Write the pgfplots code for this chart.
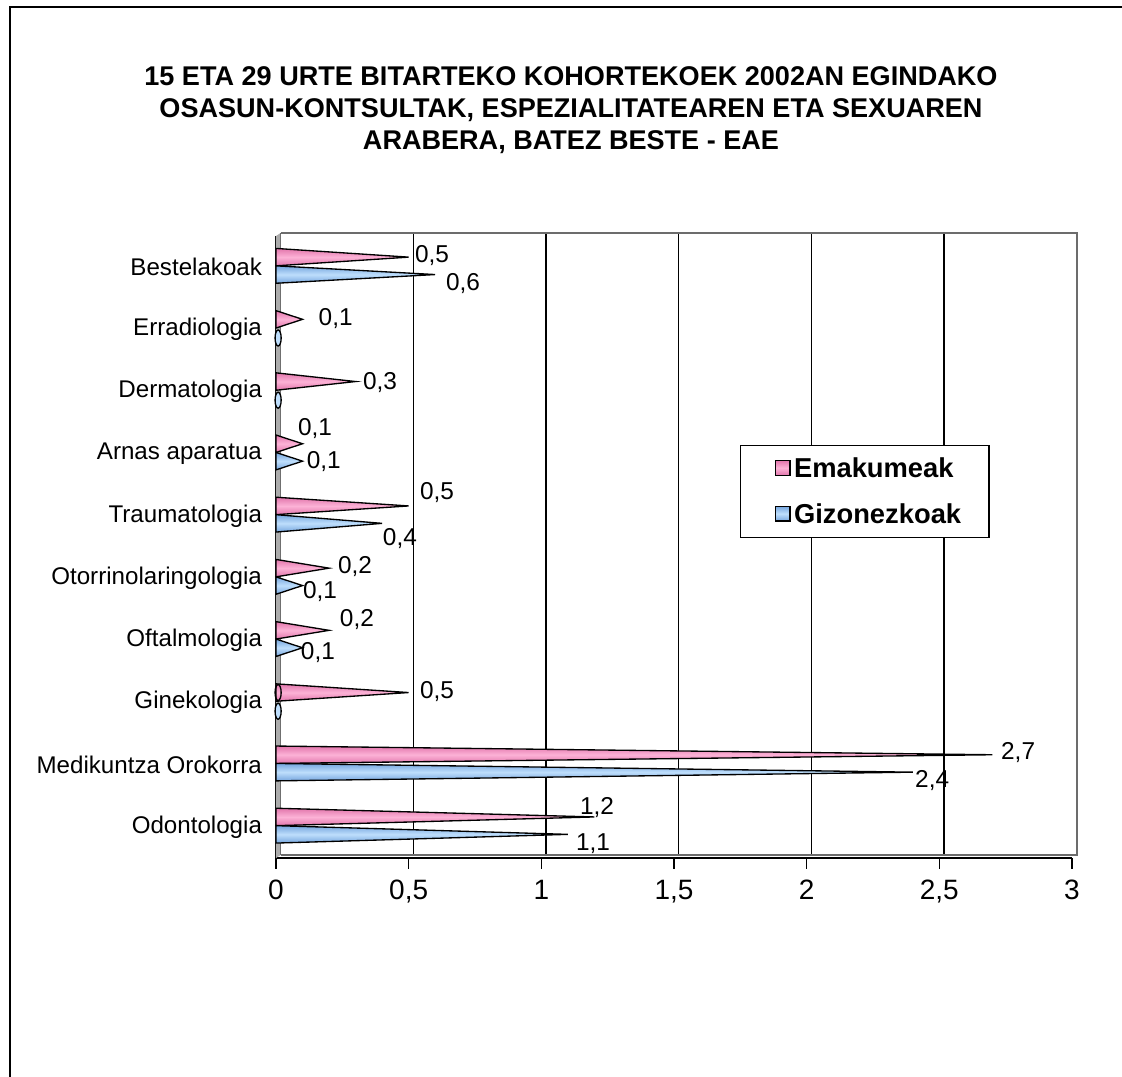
\documentclass[border=0pt]{standalone}
\usepackage{pgfplots}
\pgfplotsset{compat=1.18}
\usepackage{fontspec}
\setmainfont{Liberation Sans}
\setsansfont{Liberation Sans}
\definecolor{pinkL}{RGB}{252,178,214}
\definecolor{pinkD}{RGB}{226,118,172}
\definecolor{blueL}{RGB}{190,222,252}
\definecolor{blueD}{RGB}{118,166,222}
\definecolor{legpink}{RGB}{255,153,204}
\definecolor{legblue}{RGB}{153,204,255}
\begin{document}
\begin{tikzpicture}
\useasboundingbox (0,0) rectangle (841.5pt,-807.75pt);
\draw[line width=1.6pt] (7.5pt,-5.25pt) rectangle (900pt,-900pt);
\node[align=center, font=\bfseries\fontsize{20.3}{24}\selectfont] at (428.25pt,-82.5pt)
 {15 ETA 29 URTE BITARTEKO KOHORTEKOEK 2002AN EGINDAKO\\OSASUN-KONTSULTAK, ESPEZIALITATEAREN ETA SEXUAREN\\ARABERA, BATEZ BESTE - EAE};
\begin{axis}[
 at={(207pt,-643.5pt)}, anchor=south west, scale only axis,
 width=597pt, height=466.5pt,
 xmin=0, xmax=3, ymin=-0.5, ymax=9.5,
 axis x line*=bottom, axis y line*=left,
 axis line style={black, line width=1.2pt},
 xtick={0,0.5,1,1.5,2,2.5,3},
 ytick={0,1,2,3,4,5,6,7,8,9},
 yticklabels={Odontologia, Medikuntza Orokorra, Ginekologia, Oftalmologia, Otorrinolaringologia, Traumatologia, Arnas aparatua, Dermatologia, Erradiologia, Bestelakoak},
 minor ytick={-0.5,0.5,1.5,2.5,3.5,4.5,5.5,6.5,7.5,8.5,9.5},
 ytick style={draw=none},
 minor tick style={black, line width=1pt},
 xtick style={black, line width=1pt},
 tick align=outside,
 major tick length=8pt, minor tick length=7pt,
 /pgf/number format/use comma,
 /pgf/number format/assume math mode=true,
 yticklabel style={font=\fontsize{18.1}{21}\selectfont, xshift=1pt},
 xticklabel style={font=\fontsize{21}{24}\selectfont, yshift=-5pt},
 xmajorgrids,
 major grid style={black, line width=0.8pt, xshift=3.5pt, yshift=2.25pt},
 legend style={at={(0.583,0.664)}, anchor=north west, draw=black, line width=1pt,
   font=\bfseries\fontsize{20.5}{23}\selectfont, row sep=14pt, inner xsep=19pt, inner ysep=7pt},
 legend cell align=left,
 clip=false,
]
% left wall and back wall frame
\fill[gray!65] (axis cs:0,-0.5) -- (axis cs:0,9.5) -- ([shift={(3.5pt,2.25pt)}]axis cs:0,9.5) -- ([shift={(3.5pt,2.25pt)}]axis cs:0,-0.5) -- cycle;
\draw[gray!85!black, line width=1.6pt] ([shift={(3.5pt,2.25pt)}]axis cs:0,9.5) -- ([shift={(3.5pt,2.25pt)}]axis cs:3,9.5) -- ([shift={(3.5pt,2.25pt)}]axis cs:3,-0.5) -- ([shift={(3.5pt,2.25pt)}]axis cs:0,-0.5);
% Bestelakoak
\addplot[draw=black, line width=1pt, top color=pinkD, bottom color=pinkD, middle color=pinkL,
  legend image code/.code={\path[draw=none] (0pt,0pt) (19pt,0pt); \draw[fill=legpink, draw=black, line width=1pt] (7pt,-5pt) rectangle (18pt,6pt);}]
  coordinates {(0,9.02) (0.5,9.16) (0,9.30)} -- cycle;
\addlegendentry{Emakumeak}
\addplot[draw=black, line width=1pt, top color=blueD, bottom color=blueD, middle color=blueL,
  legend image code/.code={\path[draw=none] (0pt,0pt) (19pt,0pt); \draw[fill=legblue, draw=black, line width=1pt] (7pt,-5pt) rectangle (18pt,6pt);}]
  coordinates {(0,8.74) (0.6,8.88) (0,9.02)} -- cycle;
\addlegendentry{Gizonezkoak}
% Emakumeak (pink)
\addplot[forget plot, draw=black, line width=1pt, top color=pinkD, bottom color=pinkD, middle color=pinkL] coordinates {(0,8.02) (0.1,8.16) (0,8.30)} -- cycle;
\addplot[forget plot, draw=black, line width=1pt, top color=pinkD, bottom color=pinkD, middle color=pinkL] coordinates {(0,7.02) (0.3,7.16) (0,7.30)} -- cycle;
\addplot[forget plot, draw=black, line width=1pt, top color=pinkD, bottom color=pinkD, middle color=pinkL] coordinates {(0,6.02) (0.1,6.16) (0,6.30)} -- cycle;
\addplot[forget plot, draw=black, line width=1pt, top color=pinkD, bottom color=pinkD, middle color=pinkL] coordinates {(0,5.02) (0.5,5.16) (0,5.30)} -- cycle;
\addplot[forget plot, draw=black, line width=1pt, top color=pinkD, bottom color=pinkD, middle color=pinkL] coordinates {(0,4.02) (0.2,4.16) (0,4.30)} -- cycle;
\addplot[forget plot, draw=black, line width=1pt, top color=pinkD, bottom color=pinkD, middle color=pinkL] coordinates {(0,3.02) (0.2,3.16) (0,3.30)} -- cycle;
\addplot[forget plot, draw=black, line width=1pt, top color=pinkD, bottom color=pinkD, middle color=pinkL] coordinates {(0,2.02) (0.5,2.16) (0,2.30)} -- cycle;
\addplot[forget plot, draw=black, line width=1pt, top color=pinkD, bottom color=pinkD, middle color=pinkL] coordinates {(0,1.02) (2.7,1.16) (0,1.30)} -- cycle;
\addplot[forget plot, draw=black, line width=1pt, top color=pinkD, bottom color=pinkD, middle color=pinkL] coordinates {(0,0.02) (1.2,0.16) (0,0.30)} -- cycle;
% Gizonezkoak (blue)
\addplot[forget plot, draw=black, line width=1pt, top color=blueD, bottom color=blueD, middle color=blueL] coordinates {(0,5.74) (0.1,5.88) (0,6.02)} -- cycle;
\addplot[forget plot, draw=black, line width=1pt, top color=blueD, bottom color=blueD, middle color=blueL] coordinates {(0,4.74) (0.4,4.88) (0,5.02)} -- cycle;
\addplot[forget plot, draw=black, line width=1pt, top color=blueD, bottom color=blueD, middle color=blueL] coordinates {(0,3.74) (0.1,3.88) (0,4.02)} -- cycle;
\addplot[forget plot, draw=black, line width=1pt, top color=blueD, bottom color=blueD, middle color=blueL] coordinates {(0,2.74) (0.1,2.88) (0,3.02)} -- cycle;
\addplot[forget plot, draw=black, line width=1pt, top color=blueD, bottom color=blueD, middle color=blueL] coordinates {(0,0.74) (2.4,0.88) (0,1.02)} -- cycle;
\addplot[forget plot, draw=black, line width=1pt, top color=blueD, bottom color=blueD, middle color=blueL] coordinates {(0,-0.26) (1.1,-0.12) (0,0.02)} -- cycle;
% zero-value cones: base only
\addplot[forget plot, only marks, mark=*, mark size=6pt, mark options={xscale=0.38, fill=blueL, draw=black, line width=1pt}]
  coordinates {(0.008,7.86) (0.008,6.86) (0.008,1.86)};
\addplot[forget plot, only marks, mark=o, mark size=6pt, mark options={xscale=0.38, draw=black, line width=1pt}]
  coordinates {(0.008,2.16)};
% value labels
\begin{scope}[every node/.style={font=\fontsize{18.3}{21}\selectfont, inner sep=0pt}]
\node at (axis cs:0.588,9.19) {0,5};
\node at (axis cs:0.705,8.73) {0,6};
\node at (axis cs:0.225,8.18) {0,1};
\node at (axis cs:0.392,7.15) {0,3};
\node at (axis cs:0.147,6.41) {0,1};
\node at (axis cs:0.180,5.87) {0,1};
\node at (axis cs:0.607,5.37) {0,5};
\node at (axis cs:0.467,4.64) {0,4};
\node at (axis cs:0.298,4.18) {0,2};
\node at (axis cs:0.166,3.79) {0,1};
\node at (axis cs:0.305,3.33) {0,2};
\node at (axis cs:0.158,2.80) {0,1};
\node at (axis cs:0.607,2.17) {0,5};
\node at (axis cs:2.797,1.19) {2,7};
\node at (axis cs:2.473,0.75) {2,4};
\node at (axis cs:1.21,0.31) {1,2};
\node at (axis cs:1.195,-0.27) {1,1};
\end{scope}
\end{axis}
\end{tikzpicture}
\end{document}
